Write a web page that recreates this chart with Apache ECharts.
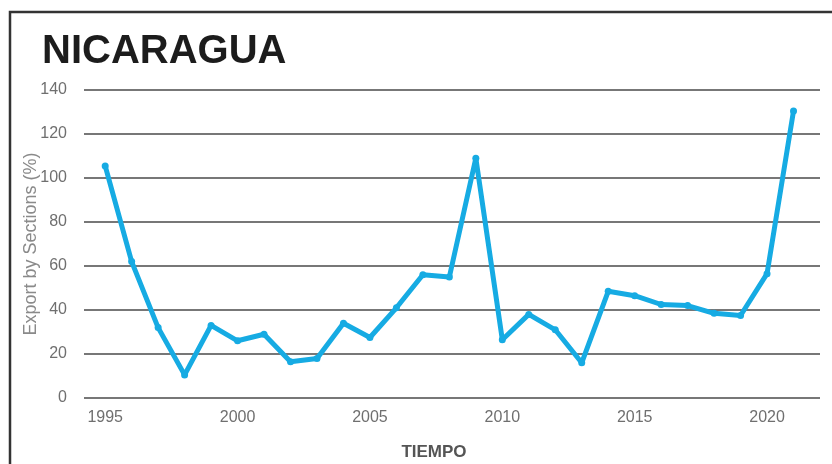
<!DOCTYPE html>
<html>
<head>
<meta charset="utf-8">
<script src="https://cdn.jsdelivr.net/npm/echarts@6/dist/echarts.min.js"></script>
<style>
  html, body { margin: 0; padding: 0; background: #fff; }
  #chart { width: 832px; height: 464px; }
</style>
</head>
<body>
<div id="chart"></div>
<script>
const years = [1995, 1996, 1997, 1998, 1999, 2000, 2001, 2002, 2003, 2004, 2005, 2006, 2007, 2008,
  2009, 2010, 2011, 2012, 2013, 2014, 2015, 2016, 2017, 2018, 2019, 2020, 2021];
const exportPct = [105.5, 62, 32, 10.5, 33, 26, 29, 16.5, 18, 34, 27.5, 41, 56, 55,
  109, 26.5, 38, 31, 16, 48.5, 46.5, 42.5, 42, 38.5, 37.5, 56.5, 130.5];
const yearLabels = [1995, 2000, 2005, 2010, 2015, 2020];

const colors = {
  line: '#16abe3',
  grid: '#777',
  label: '#6f6f6f',
  title: '#1c1c1c',
  frame: '#333'
};

const chart = echarts.init(document.getElementById('chart'));
chart.setOption({
  animation: false,
  title: {
    text: 'NICARAGUA',
    left: 37,
    top: 27,
    textStyle: { fontFamily: 'Liberation Sans', fontSize: 40, fontWeight: 'bold', color: colors.title }
  },
  graphic: [{
    type: 'rect',
    shape: { x: 10, y: 12, width: 840, height: 470 },
    style: { fill: 'none', stroke: colors.frame, lineWidth: 2.5 }
  }, {
    // y axis title, placed by hand so it sits close to the labels like the original
    type: 'text',
    x: 31,
    y: 244,
    rotation: Math.PI / 2,
    style: {
      text: 'Export by Sections (%)',
      fontFamily: 'Liberation Sans',
      fontSize: 18,
      fill: '#8a8a8a',
      align: 'center',
      verticalAlign: 'middle'
    }
  }],
  grid: { left: 84, right: 12, top: 90, bottom: 66, outerBoundsMode: 'none' },
  xAxis: {
    type: 'value',
    min: 1994.2,
    max: 2022,
    name: 'TIEMPO',
    nameLocation: 'middle',
    nameGap: 46,
    nameTextStyle: {
      fontFamily: 'Liberation Sans', fontSize: 17, fontWeight: 'bold', color: '#555',
      padding: [0, 36, 0, 0]
    },
    axisLine: { show: false },
    axisTick: { show: false },
    splitLine: { show: false },
    axisLabel: {
      customValues: yearLabels,
      formatter: v => String(v),
      margin: 12,
      fontFamily: 'Liberation Sans',
      fontSize: 16,
      color: colors.label
    }
  },
  yAxis: {
    type: 'value',
    min: 0,
    max: 140,
    interval: 20,
    axisLine: { show: false },
    axisTick: { show: false },
    splitLine: { lineStyle: { color: colors.grid, width: 2 } },
    axisLabel: { margin: 17, fontFamily: 'Liberation Sans', fontSize: 16, color: colors.label }
  },
  series: [{
    type: 'line',
    data: years.map((y, i) => [y, exportPct[i]]),
    symbol: 'circle',
    symbolSize: 7,
    lineStyle: { color: colors.line, width: 5 },
    itemStyle: { color: colors.line }
  }]
});
</script>
</body>
</html>
